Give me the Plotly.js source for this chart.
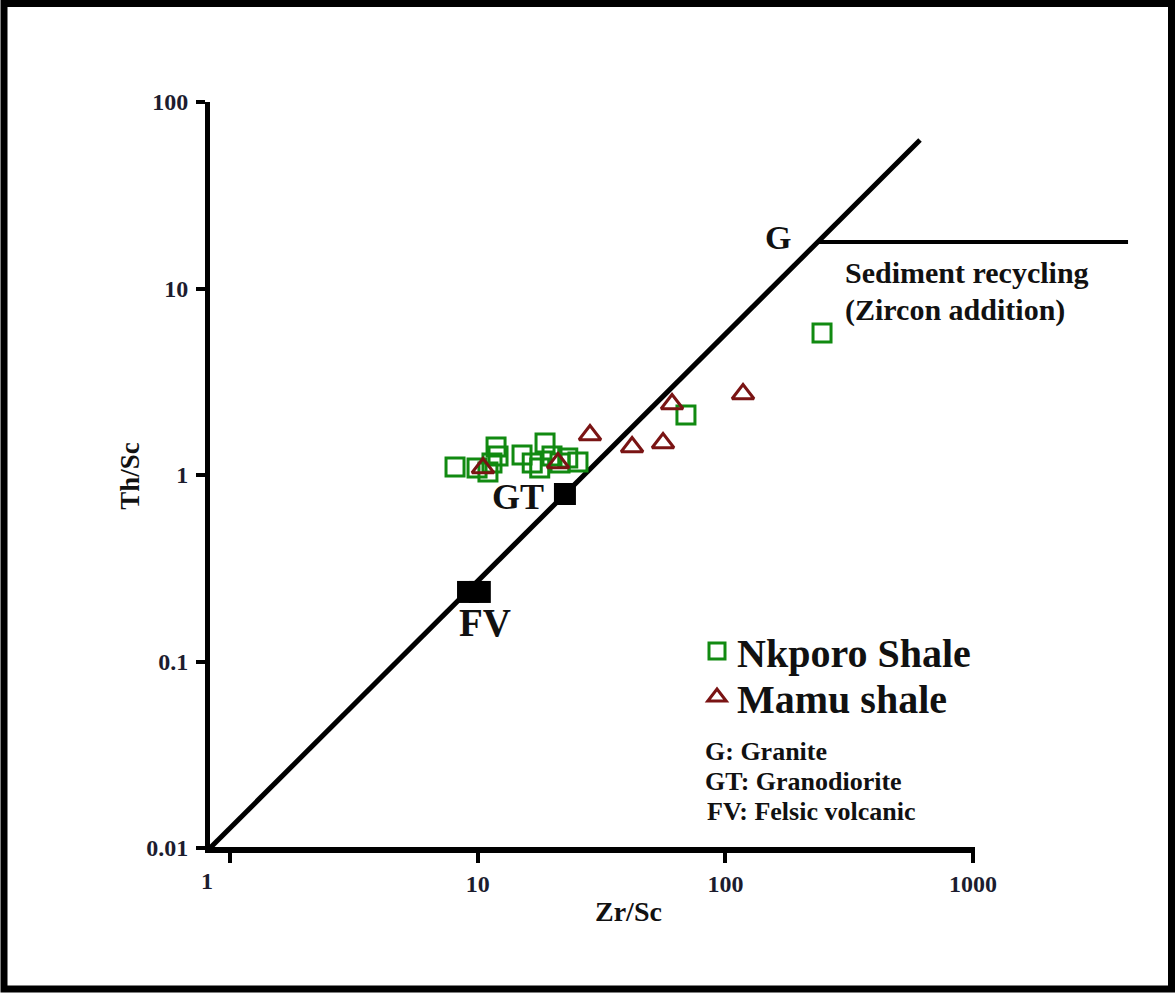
<!DOCTYPE html>
<html>
<head>
<meta charset="utf-8">
<script src="https://cdn.plot.ly/plotly-3.0.1.min.js"></script>
<style>
  html, body { margin: 0; padding: 0; background: #ffffff; overflow: hidden; }
  #chart { width: 1176px; height: 993px; }
</style>
</head>
<body>
<div id="chart"></div>
<script>
// ---- Data (Zr/Sc vs Th/Sc, log-log) ----
const nkporoZrSc = [8.10, 9.94, 11.0, 11.86, 12.08, 11.42, 15.1, 16.6, 17.8, 18.7, 19.95, 21.5, 23.1, 25.4, 69.3, 245.5];
const nkporoThSc = [1.104, 1.090, 1.038, 1.413, 1.264, 1.160, 1.280, 1.160, 1.090, 1.484, 1.264, 1.160, 1.233, 1.174, 2.097, 5.77];

const mamuZrSc = [10.5, 21.1, 28.4, 42.0, 56.0, 60.9, 117.8];
const mamuThSc = [1.090, 1.160, 1.639, 1.413, 1.484, 2.403, 2.719];

// magmatic trend line and sediment recycling line
const trendZrSc = [0.823, 610.5];
const trendThSc = [0.00988, 62.5];
const recyclingZrSc = [234.4, 4222];
const recyclingThSc = [17.76, 17.76];

// reference compositions
const refNames = ["GT", "FV", "FV"];
const refZrSc = [22.5, 9.14, 10.2];
const refThSc = [0.791, 0.236, 0.236];

const xTickVals = [1, 10, 100, 1000];
const xTickText = ["", "10", "100", "1000"];
const yTickVals = [0.01, 0.1, 1, 10, 100];
const yTickText = ["0.01", "0.1", "1", "10", "100"];

// ---- layout helpers (pixel -> paper) ----
const L = 210, R = 36, T = 102, B = 143, W = 1176, H = 993;
const PW = W - L - R, PH = H - T - B;
const xp = X => (X - L) / PW;
const yp = Y => (H - B - Y) / PH;

const serif = "Liberation Serif, Times New Roman, serif";
const green = "#118a11";
const maroon = "#7a1414";

const traces = [
  { x: trendZrSc, y: trendThSc, mode: "lines", line: { color: "#000", width: 5 }, showlegend: false, hoverinfo: "skip" },
  { x: recyclingZrSc, y: recyclingThSc, mode: "lines", line: { color: "#000", width: 4 }, showlegend: false, hoverinfo: "skip" },
  { x: nkporoZrSc, y: nkporoThSc, mode: "markers", name: "Nkporo Shale", legend: "legend",
    marker: { symbol: "square-open", size: 18, color: green, line: { color: green, width: 3 } } },
  { x: mamuZrSc, y: mamuThSc, mode: "markers", name: "Mamu shale", legend: "legend2",
    marker: { symbol: "triangle-up-open", size: 19, color: maroon, line: { color: maroon, width: 3 } } },
  { x: refZrSc, y: refThSc, text: refNames, mode: "markers", showlegend: false,
    marker: { symbol: "square", size: 22, color: "#000" } }
];

const annFont = (s) => ({ family: serif, size: s, color: "#111", weight: "bold" });
const tickFont = { family: serif, size: 24, color: "#1c1c2e", weight: "bold" };

const layout = {
  width: W, height: H,
  margin: { l: L, r: R, t: T, b: B },
  paper_bgcolor: "#ffffff", plot_bgcolor: "#ffffff",
  xaxis: {
    type: "log", range: [(L - 230) / 247.7, (1140 - 230) / 247.7],
    showgrid: false, zeroline: false, showline: false,
    ticks: "outside", ticklen: 12, tickwidth: 4, tickcolor: "#000",
    tickvals: xTickVals, ticktext: xTickText,
    tickfont: tickFont
  },
  yaxis: {
    type: "log", range: [-2.0107, 2],
    showgrid: false, zeroline: false, showline: true, linewidth: 5, linecolor: "#000",
    ticks: "outside", ticklen: 9, tickwidth: 4, tickcolor: "#000",
    ticklabelstandoff: 3,
    tickvals: yTickVals, ticktext: yTickText,
    tickfont: tickFont,
    title: { text: "Th/Sc", font: { family: serif, size: 27, color: "#111", weight: "bold" }, standoff: 0 }
  },
  legend: {
    x: xp(697), y: yp(651), xanchor: "left", yanchor: "middle",
    bgcolor: "rgba(0,0,0,0)", borderwidth: 0,
    font: { family: serif, size: 40, color: "#111", weight: "bold" }
  },
  legend2: {
    x: xp(697), y: yp(697), xanchor: "left", yanchor: "middle",
    bgcolor: "rgba(0,0,0,0)", borderwidth: 0,
    font: { family: serif, size: 40, color: "#111", weight: "bold" }
  },
  shapes: [
    // x-axis line (ends at 1000)
    { type: "line", xref: "paper", yref: "paper", x0: xp(205), x1: xp(975), y0: 0, y1: 0,
      line: { color: "#000", width: 6 } },
    // outer frame
    { type: "rect", xref: "paper", yref: "paper", x0: xp(4), x1: xp(1171.5), y0: yp(3.5), y1: yp(989),
      line: { color: "#000", width: 7 }, fillcolor: "rgba(0,0,0,0)" }
  ],
  annotations: [
    // x-axis title (placed off-centre as in the reference)
    { xref: "paper", yref: "paper", x: xp(628), y: yp(911), text: "Zr/Sc", showarrow: false,
      xanchor: "center", yanchor: "middle", font: annFont(28) },
    { xref: "paper", yref: "paper", x: xp(207), y: yp(881), text: "1", showarrow: false,
      xanchor: "center", yanchor: "middle", font: tickFont },
    { xref: "paper", yref: "paper", x: xp(778), y: yp(237), text: "G", showarrow: false,
      xanchor: "center", yanchor: "middle", font: annFont(34) },
    { xref: "paper", yref: "paper", x: xp(518), y: yp(497), text: "GT", showarrow: false,
      xanchor: "center", yanchor: "middle", font: annFont(36) },
    { xref: "paper", yref: "paper", x: xp(485), y: yp(622), text: "FV", showarrow: false,
      xanchor: "center", yanchor: "middle", font: annFont(39) },
    { xref: "paper", yref: "paper", x: xp(843), y: yp(272), text: "Sediment recycling", showarrow: false,
      xanchor: "left", yanchor: "middle", font: annFont(30) },
    { xref: "paper", yref: "paper", x: xp(843), y: yp(310), text: "(Zircon addition)", showarrow: false,
      xanchor: "left", yanchor: "middle", font: annFont(30) },
    { xref: "paper", yref: "paper", x: xp(703), y: yp(751), text: "G: Granite", showarrow: false,
      xanchor: "left", yanchor: "middle", font: annFont(26) },
    { xref: "paper", yref: "paper", x: xp(703), y: yp(781), text: "GT: Granodiorite", showarrow: false,
      xanchor: "left", yanchor: "middle", font: annFont(26) },
    { xref: "paper", yref: "paper", x: xp(705), y: yp(811), text: "FV: Felsic volcanic", showarrow: false,
      xanchor: "left", yanchor: "middle", font: annFont(26) }
  ]
};

Plotly.newPlot("chart", traces, layout, { displayModeBar: false, staticPlot: true });
</script>
</body>
</html>
